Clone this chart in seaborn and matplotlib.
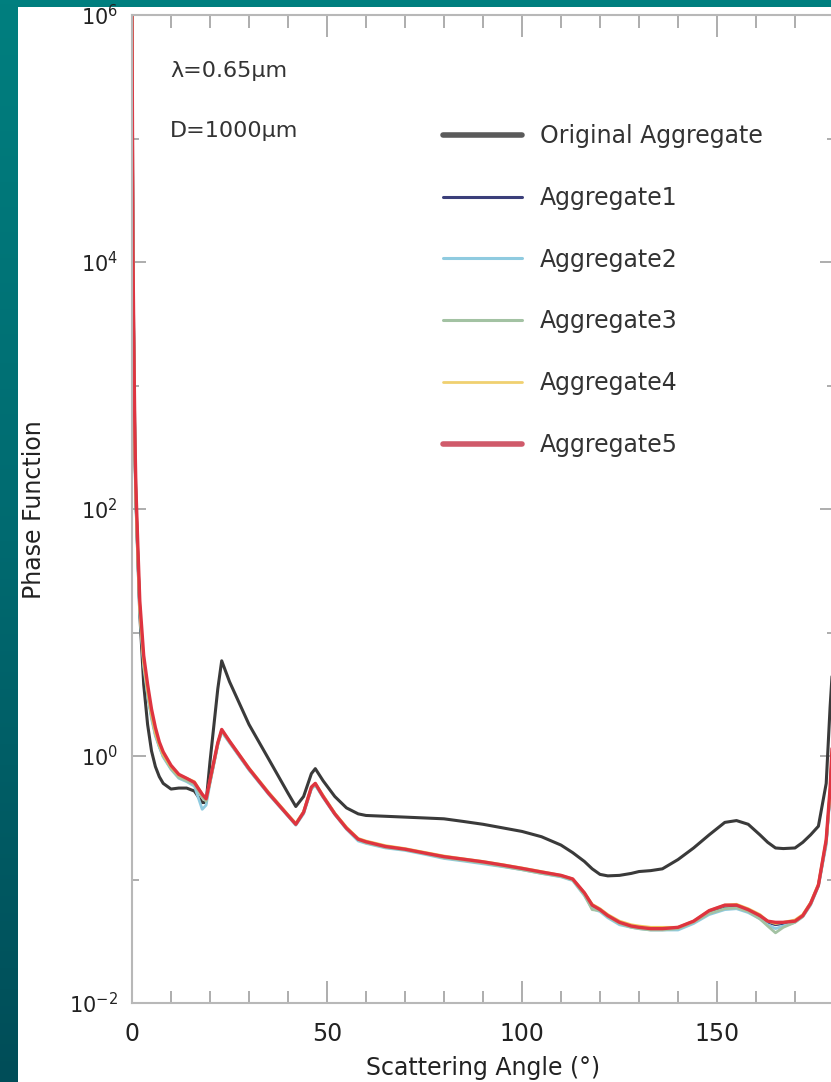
import numpy as np
import pandas as pd
import matplotlib
matplotlib.use("Agg")
import matplotlib.pyplot as plt
import seaborn as sns
from matplotlib.colors import LinearSegmentedColormap
from matplotlib.lines import Line2D
from matplotlib.patches import Rectangle
from matplotlib.ticker import FixedLocator, NullFormatter

# ---------------- data ----------------
angles = [0, 0.25, 0.5, 0.75, 1, 1.5, 2, 3, 4, 5, 6, 7, 8, 10, 12, 14, 16, 18, 19, 20,
          22, 23, 25, 30, 35, 40, 42, 44, 46, 47, 49, 52, 55, 58, 60, 65, 70, 75, 80, 85,
          90, 95, 100, 105, 110, 113, 116, 118, 120, 122, 125, 128, 130, 133, 136, 140,
          144, 148, 152, 155, 158, 161, 163, 165, 167, 170, 172, 174, 176, 178, 179, 180]

original = [1e6, 1e4, 1.5e3, 300, 120, 40, 14, 3.8, 1.8, 1.1, 0.82, 0.68, 0.6, 0.54, 0.55, 0.55, 0.52, 0.42, 0.42, 0.9,
            3.5, 5.9, 4.0, 1.8, 0.95, 0.5, 0.39, 0.47, 0.72, 0.79, 0.63, 0.47, 0.38, 0.34, 0.33, 0.325, 0.32, 0.315, 0.31, 0.295,
            0.28, 0.262, 0.245, 0.222, 0.19, 0.165, 0.14, 0.122, 0.11, 0.107, 0.108, 0.112, 0.116, 0.118, 0.122, 0.145,
            0.18, 0.23, 0.29, 0.3, 0.28, 0.23, 0.2, 0.18, 0.178, 0.18, 0.2, 0.23, 0.27, 0.6, 2.5, 8.0]

aggregate1 = [1e6, 1e4, 1.5e3, 300, 120, 40, 15, 5.5, 3.2, 2.1, 1.5, 1.2, 1.0, 0.8, 0.68, 0.64, 0.6, 0.48, 0.44, 0.62,
              1.26, 1.6, 1.3, 0.78, 0.5, 0.33, 0.28, 0.35, 0.55, 0.59, 0.47, 0.34, 0.26, 0.21, 0.2, 0.183, 0.175, 0.163, 0.152, 0.145,
              0.138, 0.13, 0.122, 0.114, 0.107, 0.1, 0.077, 0.062, 0.057, 0.051, 0.045, 0.042, 0.041, 0.04, 0.04, 0.04,
              0.045, 0.054, 0.059, 0.06, 0.056, 0.05, 0.045, 0.043, 0.044, 0.046, 0.051, 0.064, 0.09, 0.2, 0.5, 2.2]

aggregate2 = [1e6, 1e4, 1.5e3, 300, 118, 39, 14.5, 5.3, 3.1, 2.0, 1.45, 1.18, 0.98, 0.78, 0.66, 0.62, 0.57, 0.37, 0.4, 0.6,
              1.22, 1.57, 1.28, 0.77, 0.49, 0.325, 0.275, 0.34, 0.54, 0.58, 0.46, 0.335, 0.255, 0.205, 0.196, 0.18, 0.172, 0.16, 0.148, 0.141,
              0.134, 0.127, 0.12, 0.112, 0.105, 0.098, 0.074, 0.058, 0.055, 0.049, 0.043, 0.041, 0.04, 0.039, 0.039, 0.039,
              0.044, 0.052, 0.057, 0.058, 0.054, 0.048, 0.043, 0.04, 0.042, 0.045, 0.05, 0.062, 0.088, 0.19, 0.48, 2.1]

aggregate3 = [1e6, 1e4, 1.5e3, 300, 121, 41, 15.2, 5.6, 3.25, 2.1, 1.5, 1.21, 1.0, 0.79, 0.67, 0.63, 0.59, 0.46, 0.43, 0.61,
              1.25, 1.6, 1.3, 0.78, 0.5, 0.33, 0.28, 0.35, 0.55, 0.59, 0.47, 0.34, 0.26, 0.21, 0.198, 0.182, 0.174, 0.162, 0.15, 0.143,
              0.136, 0.128, 0.12, 0.112, 0.106, 0.099, 0.075, 0.057, 0.056, 0.05, 0.044, 0.041, 0.04, 0.039, 0.039, 0.04,
              0.045, 0.053, 0.058, 0.059, 0.055, 0.048, 0.042, 0.037, 0.041, 0.045, 0.05, 0.063, 0.089, 0.2, 0.5, 2.2]

aggregate4 = [1e6, 1e4, 1.5e3, 300, 122, 41, 15.5, 5.8, 3.4, 2.2, 1.55, 1.24, 1.03, 0.82, 0.7, 0.66, 0.62, 0.49, 0.45, 0.63,
              1.27, 1.62, 1.32, 0.8, 0.51, 0.335, 0.285, 0.355, 0.56, 0.6, 0.48, 0.345, 0.265, 0.215, 0.205, 0.188, 0.178, 0.166, 0.155, 0.147,
              0.14, 0.132, 0.124, 0.116, 0.108, 0.101, 0.078, 0.063, 0.058, 0.052, 0.046, 0.043, 0.042, 0.041, 0.041, 0.041,
              0.046, 0.056, 0.062, 0.063, 0.058, 0.052, 0.046, 0.044, 0.045, 0.047, 0.052, 0.065, 0.092, 0.21, 0.52, 2.3]

aggregate5 = [1e6, 1.2e4, 1.8e3, 380, 150, 50, 18, 6.5, 3.8, 2.4, 1.7, 1.3, 1.08, 0.84, 0.71, 0.66, 0.61, 0.49, 0.45, 0.64,
              1.28, 1.64, 1.32, 0.79, 0.5, 0.33, 0.28, 0.35, 0.56, 0.6, 0.47, 0.34, 0.26, 0.212, 0.202, 0.185, 0.176, 0.164, 0.153, 0.146,
              0.139, 0.131, 0.123, 0.115, 0.108, 0.101, 0.078, 0.062, 0.057, 0.051, 0.045, 0.042, 0.041, 0.04, 0.04, 0.041,
              0.046, 0.056, 0.062, 0.062, 0.057, 0.051, 0.046, 0.045, 0.045, 0.046, 0.051, 0.064, 0.09, 0.21, 0.55, 2.5]

series_names = ["Original Aggregate", "Aggregate1", "Aggregate2", "Aggregate3", "Aggregate4", "Aggregate5"]
series_values = [original, aggregate1, aggregate2, aggregate3, aggregate4, aggregate5]
series_colors = ["#3a3a3a", "#3b3f7a", "#8fcbe0", "#a3c2a3", "#f0c458", "#de3440"]
legend_colors = ["#5a5a5a", "#3b3f7a", "#8fcbe0", "#a3c2a3", "#f0d070", "#d05a6a"]
legend_widths = [4.0, 2.2, 2.2, 2.2, 2.0, 4.0]
series_widths = [2.2, 2.0, 2.0, 2.0, 2.0, 2.4]

xticks = [0, 50, 100, 150]
xminor = [10, 20, 30, 40, 60, 70, 80, 90, 110, 120, 130, 140, 160, 170]
yticks = [1e-2, 1e0, 1e2, 1e4, 1e6]
yminor = [1e-1, 1e1, 1e3, 1e5]

df = pd.concat([pd.DataFrame({"angle": angles, "phase": v, "series": n})
                for n, v in zip(series_names, series_values)], ignore_index=True)

# ---------------- figure ----------------
sns.set_theme(style="ticks")
plt.rcParams["font.family"] = ["DejaVu Sans"]

W, H = 831, 1082
fig = plt.figure(figsize=(W / 100, H / 100), dpi=100)

# teal gradient background
bg = fig.add_axes([0, 0, 1, 1])
bg.set_axis_off()
cmap = LinearSegmentedColormap.from_list("teal", ["#007f7f", "#006a70", "#004d58"])
grad = np.linspace(0, 1, 256).reshape(-1, 1)
bg.imshow(grad, aspect="auto", cmap=cmap, extent=[0, 1, 0, 1], origin="upper")
bg.set_xlim(0, 1)
bg.set_ylim(0, 1)
bg.add_patch(Rectangle((18 / W, 0), 1, 1 - 7 / H, facecolor="white", edgecolor="none"))

left, right, top, bottom = 132, 834, 15, 1003
ax = fig.add_axes([left / W, 1 - bottom / H, (right - left) / W, (bottom - top) / H])
ax.set_facecolor("white")

for name, col, lw in zip(series_names, series_colors, series_widths):
    sns.lineplot(data=df[df["series"] == name], x="angle", y="phase", ax=ax,
                 color=col, linewidth=lw, estimator=None, sort=False, legend=False)

ax.set_yscale("log")
ax.set_xlim(0, 180)
ax.set_ylim(1e-2, 1e6)

ax.xaxis.set_major_locator(FixedLocator(xticks))
ax.xaxis.set_minor_locator(FixedLocator(xminor))
ax.yaxis.set_major_locator(FixedLocator(yticks))
ax.yaxis.set_minor_locator(FixedLocator(yminor))
ax.yaxis.set_minor_formatter(NullFormatter())
ax.set_xticklabels([str(t) for t in xticks])
ax.set_yticklabels([r"10$^{-2}$", r"10$^{0}$", r"10$^{2}$", r"10$^{4}$", r"10$^{6}$"])

for s in ax.spines.values():
    s.set_color("#b8b8b8")
    s.set_linewidth(1.5)
ax.tick_params(axis="both", which="both", direction="in", top=True, right=True,
               color="#a0a0a0", width=1.2)
ax.tick_params(axis="x", which="major", length=16, labelsize=17, pad=14, labelcolor="#222222")
ax.tick_params(axis="x", which="minor", length=9)
ax.tick_params(axis="y", which="major", length=10, labelsize=15, pad=10, labelcolor="#222222")
ax.tick_params(axis="y", which="minor", length=5)

ax.set_xlabel("Scattering Angle (°)", fontsize=17, color="#222222")
ax.xaxis.set_label_coords(0.5, -(1068 - bottom) / (bottom - top), transform=ax.transAxes)
ax.xaxis.label.set_va("center")
ax.set_ylabel("Phase Function", fontsize=17, color="#222222")
ax.yaxis.set_label_coords(-(left - 34) / (right - left), (bottom - 510) / (bottom - top),
                          transform=ax.transAxes)
ax.yaxis.label.set_va("center")

ax.text(170 / W, 1 - 71 / H, "λ=0.65μm", transform=fig.transFigure, fontsize=16,
        color="#333333", va="center", ha="left")
ax.text(170 / W, 1 - 131 / H, "D=1000μm", transform=fig.transFigure, fontsize=16,
        color="#333333", va="center", ha="left")

handles = [Line2D([0], [0], color=c, linewidth=w) for c, w in zip(legend_colors, legend_widths)]
leg = ax.legend(handles, series_names, loc="upper left",
                bbox_to_anchor=(443 / W, 1 - 124 / H), bbox_transform=fig.transFigure,
                frameon=False, fontsize=17, handlelength=3.35, handletextpad=0.75,
                labelspacing=1.6, borderpad=0, borderaxespad=0)
for t in leg.get_texts():
    t.set_color("#333333")

fig.savefig("out.png", dpi=100)
